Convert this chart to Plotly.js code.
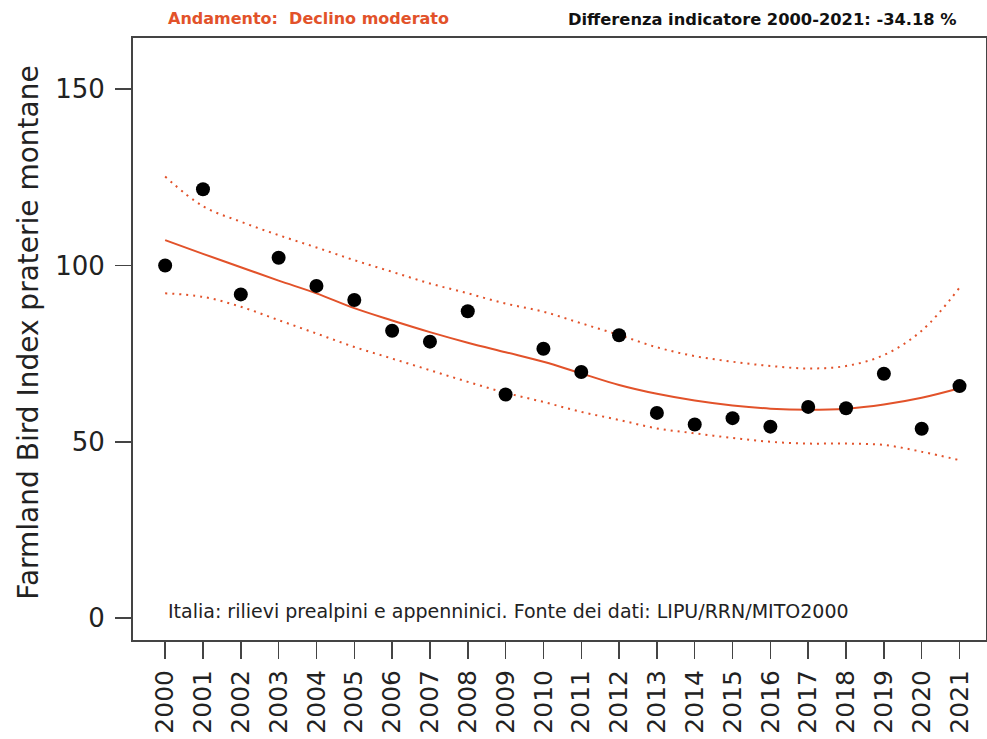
<!DOCTYPE html>
<html>
<head>
<meta charset="utf-8">
<script src="https://cdn.plot.ly/plotly-3.0.1.min.js"></script>
<style>
  html, body { margin: 0; padding: 0; background: #fff; }
  #chart { width: 987px; height: 739px; }
</style>
</head>
<body>
<div id="chart"></div>
<script>
// years and index values
var years = [2000, 2001, 2002, 2003, 2004, 2005, 2006, 2007, 2008, 2009, 2010,
             2011, 2012, 2013, 2014, 2015, 2016, 2017, 2018, 2019, 2020, 2021];
var yearLabels = years.map(String);

var indexValues = [100, 121.6, 91.8, 102.2, 94.2, 90.2, 81.5, 78.4, 87.0, 63.4, 76.4,
                   69.8, 80.2, 58.2, 54.9, 56.7, 54.3, 59.9, 59.5, 69.3, 53.7, 65.8];

// smoothed trend and its confidence band
var trend = [107.2, 103.3, 99.5, 95.7, 92.1, 87.9, 84.4, 81.1, 78.1, 75.4, 72.7,
             69.4, 66.1, 63.6, 61.7, 60.3, 59.4, 59.1, 59.4, 60.6, 62.5, 65.2];
var upper = [125.2, 116.8, 112.4, 108.6, 105.1, 101.5, 98.2, 94.9, 92.1, 89.2, 86.9,
             83.6, 80.3, 76.8, 74.3, 72.7, 71.5, 70.8, 71.5, 74.6, 81.5, 93.7];
var lower = [92.1, 91.1, 88.3, 84.5, 80.7, 76.9, 73.6, 70.3, 67.0, 63.9, 61.3,
             58.5, 56.2, 53.8, 52.4, 51.1, 50.0, 49.5, 49.5, 49.1, 47.2, 44.8];

var yTicks = [0, 50, 100, 150];

var orange = '#E2522A';
var axisCol = '#444444';
var fnt = 'DejaVu Sans, Verdana, sans-serif';

var data = [
  { x: years, y: upper, mode: 'lines', line: {color: orange, width: 2, dash: '2px,5px', shape: 'spline'}, hoverinfo: 'skip' },
  { x: years, y: lower, mode: 'lines', line: {color: orange, width: 2, dash: '2px,5px', shape: 'spline'}, hoverinfo: 'skip' },
  { x: years, y: trend, mode: 'lines', line: {color: orange, width: 2, shape: 'spline'} },
  { x: years, y: indexValues, mode: 'markers', marker: {color: '#000000', size: 14} }
];

var layout = {
  width: 987,
  height: 739,
  margin: {l: 133, r: 1, t: 38, b: 99},
  paper_bgcolor: '#ffffff',
  plot_bgcolor: '#ffffff',
  showlegend: false,
  font: {family: fnt, color: '#222222'},
  xaxis: {
    range: [1999.15, 2021.7],
    tickvals: years,
    ticktext: yearLabels,
    tickangle: -90,
    ticks: 'outside',
    ticklen: 17,
    tickwidth: 1.5,
    tickcolor: axisCol,
    tickfont: {size: 25, family: fnt, color: '#222222'},
    ticklabelstandoff: 1,
    showgrid: false,
    zeroline: false,
    showline: true,
    linecolor: axisCol,
    linewidth: 2,
    mirror: true
  },
  yaxis: {
    range: [-6.2, 164.5],
    tickvals: yTicks,
    ticks: 'outside',
    ticklen: 16,
    tickwidth: 1.5,
    tickcolor: axisCol,
    tickfont: {size: 26, family: fnt, color: '#222222'},
    ticklabelstandoff: 5,
    showgrid: false,
    zeroline: false,
    showline: true,
    linecolor: axisCol,
    linewidth: 2,
    mirror: true
  },
  annotations: [
    { text: 'Farmland Bird Index praterie montane', textangle: -90,
      xref: 'paper', yref: 'paper', x: -0.144, y: 0.51, showarrow: false,
      font: {size: 28, family: fnt, color: '#222222'} },
    { text: 'Andamento:\u00a0 Declino moderato', xref: 'paper', yref: 'paper',
      x: 0.0387, y: 1.0, xanchor: 'left', yanchor: 'bottom', yshift: 8, showarrow: false,
      font: {size: 16, family: fnt, color: orange, weight: 'bold'} },
    { text: 'Differenza indicatore 2000-2021: -34.18 %', xref: 'paper', yref: 'paper',
      x: 0.968, y: 1.0, xanchor: 'right', yanchor: 'bottom', yshift: 7, showarrow: false,
      font: {size: 16.3, family: fnt, color: '#111111', weight: 'bold'} },
    { text: 'Italia: rilievi prealpini e appenninici. Fonte dei dati: LIPU/RRN/MITO2000',
      xref: 'paper', yref: 'paper', x: 0.0387, y: 0.048, xanchor: 'left', yanchor: 'middle',
      showarrow: false, font: {size: 19, family: fnt, color: '#222222'} }
  ]
};

Plotly.newPlot('chart', data, layout, {displayModeBar: false, staticPlot: true});
</script>
</body>
</html>
